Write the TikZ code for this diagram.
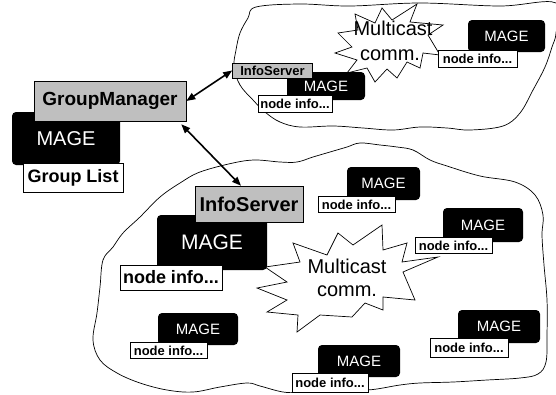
\documentclass[tikz,border=0pt]{standalone}
\usepackage{fontspec}
\setmainfont{Liberation Sans}
\usetikzlibrary{arrows.meta}
\begin{document}
\begin{tikzpicture}[x=1pt,y=-1pt,
  mage/.style={fill=black,text=white,rounded corners=4pt,inner sep=0pt,font=\fontsize{#1}{#1}\selectfont},
  mage/.default=15,
  info/.style={draw=black,line width=0.9pt,fill=white,inner sep=0pt,font=\bfseries\fontsize{#1}{#1}\selectfont},
  info/.default=13,
  srv/.style={draw=black,line width=0.6pt,fill=gray!50,inner sep=0pt,font=\bfseries\fontsize{#1}{#1}\selectfont},
  cloud/.style={draw=black,line width=0.7pt},
  burst/.style={draw=black,line width=0.7pt,fill=white,line join=miter},
  btext/.style={font=\fontsize{20}{20}\selectfont,inner sep=0pt},
  dbl/.style={{Triangle[length=9pt,width=7pt]}-{Triangle[length=9pt,width=7pt]},line width=1.6pt}]
\useasboundingbox (0,0) rectangle (556,394);

% clouds
\draw[cloud] plot[smooth cycle,tension=0.6] coordinates {
 (556,3) (500,6) (420,3) (350,6) (300,4) (256,7) (248,18) (240,33) (236,50) (234,67)
 (240,85) (253,100) (265,112) (280,122) (300,127) (333,126) (363,128) (393,130)
 (420,127) (447,128) (470,130) (503,126) (520,113) (533,90) (545,67) (552,47) (556,33)};
\draw[cloud] plot[smooth cycle,tension=0.6] coordinates {
 (233,163) (255,160) (280,162) (297,162) (313,157) (330,152) (347,147) (360,143)
 (380,145) (397,147) (413,150) (430,160) (447,166) (480,176) (515,182) (535,195)
 (543,215) (542,235) (544,265) (547,300) (547,335) (546,362) (538,374) (520,378)
 (487,380) (453,382) (420,383) (400,385) (367,390) (333,388) (300,392) (283,392)
 (260,386) (247,383) (220,387) (193,392) (167,390) (140,383) (117,373) (100,360)
 (93,340) (97,313) (100,287) (103,260) (113,247) (123,233) (140,217) (160,197)
 (180,183) (200,172)};

% multicast bursts
\draw[burst] (335,53) -- (352,47) -- (338,33) -- (358,30) -- (355,14) -- (375,23)
 -- (382,8) -- (392,20) -- (417,4) -- (410,22) -- (443,25) -- (428,35) -- (440,55)
 -- (423,53) -- (420,68) -- (407,62) -- (397,78) -- (387,69) -- (375,82) -- (367,68)
 -- (347,73) -- (357,60) -- cycle;
\node[btext] (mc1) at (393,28) {Multicast};
\node[btext] (cm1) at (390,55) {comm.};

\draw[burst] (293,243) -- (327,255) -- (338,233) -- (353,245) -- (382,225) -- (383,250)
 -- (407,243) -- (402,262) -- (438,257) -- (403,272) -- (415,300) -- (383,297)
 -- (383,310) -- (365,303) -- (352,317) -- (320,315) -- (297,332) -- (298,315)
 -- (267,312) -- (287,300) -- (257,288) -- (287,282) -- (265,267) -- (300,262) -- cycle;
\node[btext] (mc2) at (347,266) {Multicast};
\node[btext] (cm2) at (347,291) {comm.};

% group manager
\node[mage=20,minimum width=108pt,minimum height=53pt] (m0) at (66,138.5) {MAGE};
\node[info=18,minimum width=100pt,minimum height=29pt] (gl) at (73,177.5) {Group List};
\node[srv=19,minimum width=152pt,minimum height=40pt] (gm) at (110,101) {GroupManager};

% top group
\node[mage,minimum width=78pt,minimum height=28pt] (m1) at (326,86) {MAGE};
\node[info,minimum width=74pt,minimum height=17pt] (n1) at (295,103.5) {node info...};
\node[srv=13,minimum width=80pt,minimum height=15pt] (is1) at (272.5,70.5) {InfoServer};
\node[mage,minimum width=77pt,minimum height=32pt] (m2) at (506.5,36) {MAGE};
\node[info,minimum width=79pt,minimum height=17pt] (n2) at (477.5,58.5) {node info...};

% bottom group
\node[mage=21,minimum width=110pt,minimum height=55pt] (m3) at (212,242.5) {MAGE};
\node[info=18,minimum width=102pt,minimum height=25pt] (n3) at (171,277.5) {node info...};
\node[srv=20,minimum width=108pt,minimum height=36pt] (is2) at (249,204) {InfoServer};
\node[mage,minimum width=73pt,minimum height=33pt] (m4) at (383.5,183.5) {MAGE};
\node[info,minimum width=77pt,minimum height=16pt] (n4) at (356.5,204.5) {node info...};
\node[mage,minimum width=80pt,minimum height=34pt] (m5) at (483,225) {MAGE};
\node[info,minimum width=77pt,minimum height=16pt] (n5) at (453.5,245.5) {node info...};
\node[mage,minimum width=80pt,minimum height=32pt] (m6) at (198,329) {MAGE};
\node[info,minimum width=77pt,minimum height=16pt] (n6) at (168.5,350.5) {node info...};
\node[mage,minimum width=82pt,minimum height=32pt] (m7) at (359,361) {MAGE};
\node[info,minimum width=76pt,minimum height=19pt] (n7) at (330,382.5) {node info...};
\node[mage,minimum width=82pt,minimum height=33pt] (m8) at (499,326.5) {MAGE};
\node[info,minimum width=78pt,minimum height=19pt] (n8) at (469,347.5) {node info...};

% arrows
\draw[dbl] (gm.east) -- (is1.west);
\draw[dbl] ([xshift=-5pt,yshift=-3pt]gm.south east) -- ([xshift=-8pt]is2.north);
\end{tikzpicture}
\end{document}
